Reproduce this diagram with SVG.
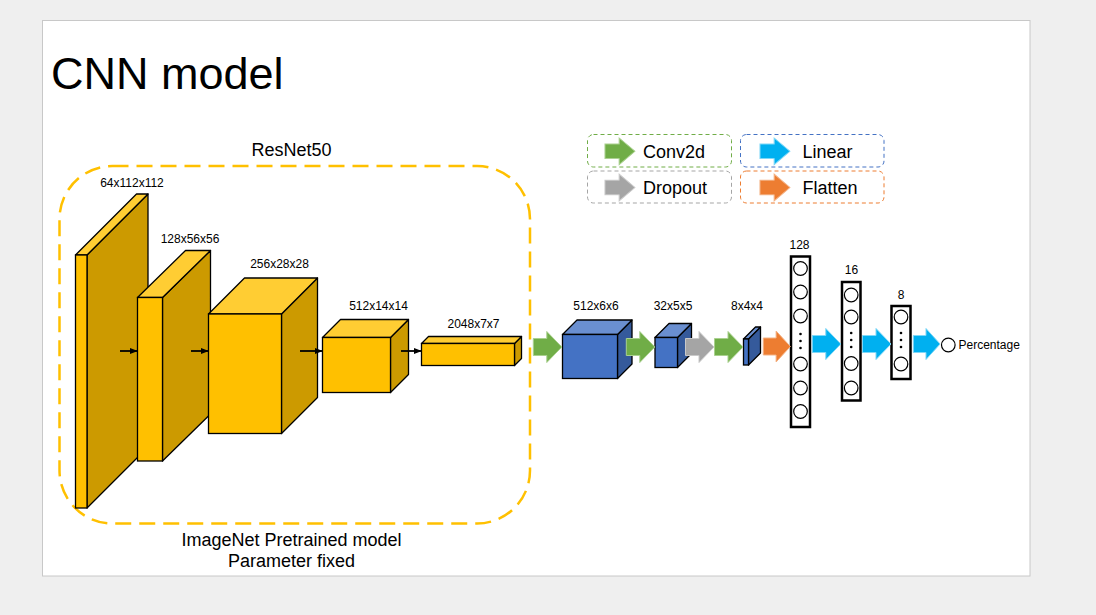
<svg xmlns="http://www.w3.org/2000/svg" width="1096" height="615" viewBox="0 0 1096 615">
<style>
text{font-family:"Liberation Sans",Arial,sans-serif;fill:#000}
.lbl{font-size:12px;text-anchor:middle}
.big{font-size:18px}
.yf{fill:#ffc000;stroke:#000;stroke-width:1.3}
.yt{fill:#ffcd33;stroke:#000;stroke-width:1.3;stroke-linejoin:round}
.ys{fill:#cc9a00;stroke:#000;stroke-width:1.3;stroke-linejoin:round}
.bf{fill:#4472c4;stroke:#000;stroke-width:1.3}
.bt{fill:#6a8fd0;stroke:#000;stroke-width:1.3;stroke-linejoin:round}
.bs{fill:#355a9b;stroke:#000;stroke-width:1.3;stroke-linejoin:round}
.col{fill:#fff;stroke:#000;stroke-width:2.5}
.neu{fill:#fff;stroke:#000;stroke-width:1.2}
.g{fill:#70ad47;stroke:#a9d08e;stroke-width:1}
.gr{fill:#a5a5a5;stroke:#c9c9c9;stroke-width:1}
.o{fill:#ed7d31;stroke:#f4b183;stroke-width:1}
.bl{fill:#00b0f0;stroke:#7fd7f7;stroke-width:1}
.leg{fill:#fff;stroke-width:1;stroke-dasharray:4 3}
.small{stroke:#000;stroke-width:1.8;marker-end:url(#ah)}
</style>
<defs>
<path id="arr" d="M0,-8.5 H13.5 V-15.5 L28.5,0 L13.5,15.5 V8.5 H0 Z"/>
<marker id="ah" viewBox="0 0 10 10" refX="9" refY="5" markerWidth="8" markerHeight="8" orient="auto" markerUnits="userSpaceOnUse">
<path d="M0,1 L10,5 L0,9 Z" fill="#000"/>
</marker>
</defs>
<rect x="0" y="0" width="1096" height="615" fill="#efefef"/>
<rect x="42.5" y="20.5" width="987.5" height="555.5" fill="#fff" stroke="#c8c8c8" stroke-width="1"/>
<text x="51" y="89" font-size="45">CNN model</text>

<g id="resnet-group">
<rect x="59.5" y="166" width="470.5" height="357.5" rx="53" ry="53" fill="none" stroke="#ffc000" stroke-width="2.5" stroke-dasharray="16 8"/>
<text class="big" x="291.5" y="156" text-anchor="middle">ResNet50</text>
<text class="big" x="291.5" y="546" text-anchor="middle">ImageNet Pretrained model</text>
<text class="big" x="291.5" y="567" text-anchor="middle">Parameter fixed</text>
</g>

<g id="block1">
<polygon class="ys" points="87,255 148,194 148,447 87,508"/>
<polygon class="yt" points="75.5,255 87,255 148,194 136.5,194"/>
<rect class="yf" x="75.5" y="255" width="11.5" height="253"/>
<text class="lbl" x="132" y="187">64x112x112</text>
</g>
<g id="block2">
<polygon class="ys" points="162.5,297.5 210.5,250.5 210.5,414 162.5,461"/>
<polygon class="yt" points="137.5,297.5 162.5,297.5 210.5,250.5 185.5,250.5"/>
<rect class="yf" x="137.5" y="297.5" width="25" height="163.5"/>
<text class="lbl" x="190" y="243">128x56x56</text>
</g>
<g id="block3">
<polygon class="ys" points="281.5,314 317.5,278 317.5,397.5 281.5,433.5"/>
<polygon class="yt" points="208.5,314 281.5,314 317.5,278 244.5,278"/>
<rect class="yf" x="208.5" y="314" width="73" height="119.5"/>
<text class="lbl" x="279.5" y="268">256x28x28</text>
</g>
<g id="block4">
<polygon class="ys" points="390.5,337.5 408.5,319.5 408.5,374.5 390.5,392.5"/>
<polygon class="yt" points="322.5,337.5 390.5,337.5 408.5,319.5 340.5,319.5"/>
<rect class="yf" x="322.5" y="337.5" width="68" height="55"/>
<text class="lbl" x="378.5" y="310">512x14x14</text>
</g>
<g id="block5">
<polygon class="ys" points="514.5,343.5 521.5,336.5 521.5,358.5 514.5,365.5"/>
<polygon class="yt" points="421.5,343.5 514.5,343.5 521.5,336.5 428.5,336.5"/>
<rect class="yf" x="421.5" y="343.5" width="93" height="22"/>
<text class="lbl" x="473.5" y="328">2048x7x7</text>
</g>

<g id="blue1">
<polygon class="bs" points="617.5,334.5 632,320 632,364 617.5,378.5"/>
<polygon class="bt" points="562.5,334.5 617.5,334.5 632,320 577,320"/>
<rect class="bf" x="562.5" y="334.5" width="55" height="44"/>
<text class="lbl" x="596" y="310">512x6x6</text>
</g>
<g id="blue2">
<polygon class="bs" points="677.5,337.5 691.5,323.5 691.5,353.5 677.5,367.5"/>
<polygon class="bt" points="655,337.5 677.5,337.5 691.5,323.5 669,323.5"/>
<rect class="bf" x="655" y="337.5" width="22.5" height="30"/>
<text class="lbl" x="673" y="310">32x5x5</text>
</g>
<g id="blue3">
<polygon class="bs" points="748.5,339 760.5,327 760.5,353 748.5,365"/>
<polygon class="bt" points="743.5,339 748.5,339 760.5,327 755.5,327"/>
<rect class="bf" x="743.5" y="339" width="5" height="26"/>
<text class="lbl" x="747" y="310">8x4x4</text>
</g>

<g id="fc128">
<rect class="col" x="791" y="256.5" width="19" height="170.5"/>
<circle class="neu" cx="800.5" cy="268.5" r="6.8"/>
<circle class="neu" cx="800.5" cy="292" r="6.8"/>
<circle class="neu" cx="800.5" cy="316" r="6.8"/>
<circle cx="800.5" cy="334" r="1.3"/>
<circle cx="800.5" cy="341" r="1.3"/>
<circle cx="800.5" cy="348" r="1.3"/>
<circle class="neu" cx="800.5" cy="364" r="6.8"/>
<circle class="neu" cx="800.5" cy="388" r="6.8"/>
<circle class="neu" cx="800.5" cy="411.5" r="6.8"/>
<text class="lbl" x="799.5" y="249">128</text>
</g>
<g id="fc16">
<rect class="col" x="842" y="282" width="18.5" height="118.5"/>
<circle class="neu" cx="851.2" cy="295" r="6.8"/>
<circle class="neu" cx="851.2" cy="317" r="6.8"/>
<circle cx="851.2" cy="333" r="1.3"/>
<circle cx="851.2" cy="340" r="1.3"/>
<circle cx="851.2" cy="347" r="1.3"/>
<circle class="neu" cx="851.2" cy="363.5" r="6.8"/>
<circle class="neu" cx="851.2" cy="388" r="6.8"/>
<text class="lbl" x="851.5" y="274">16</text>
</g>
<g id="fc8">
<rect class="col" x="891.5" y="306" width="19" height="73"/>
<circle class="neu" cx="901" cy="317" r="6.8"/>
<circle cx="901" cy="333" r="1.3"/>
<circle cx="901" cy="340" r="1.3"/>
<circle cx="901" cy="347" r="1.3"/>
<circle class="neu" cx="901" cy="364" r="6.8"/>
<text class="lbl" x="901" y="299">8</text>
</g>
<g id="output">
<circle class="neu" cx="948.3" cy="345" r="6.8"/>
<text x="958.5" y="349" font-size="12">Percentage</text>
</g>

<g id="connectors">
<line class="small" x1="120" y1="351" x2="137" y2="351"/>
<line class="small" x1="191" y1="351" x2="208" y2="351"/>
<line class="small" x1="300" y1="351" x2="322" y2="351"/>
<line class="small" x1="401" y1="351" x2="421" y2="351"/>
<use href="#arr" class="g" transform="translate(533.3,347)"/>
<use href="#arr" class="g" transform="translate(626.3,347)"/>
<use href="#arr" class="gr" transform="translate(685.5,347)"/>
<use href="#arr" class="g" transform="translate(714.5,347)"/>
<use href="#arr" class="o" transform="translate(763.3,346.5) scale(0.95,1)"/>
<use href="#arr" class="bl" transform="translate(812.3,344)"/>
<use href="#arr" class="bl" transform="translate(862.5,344)"/>
<use href="#arr" class="bl" transform="translate(913.3,344) scale(0.94,1)"/>
</g>

<g id="legend">
<rect class="leg" x="587.5" y="134.5" width="144" height="32.5" rx="6" stroke="#70ad47"/>
<use href="#arr" class="g" transform="translate(605,151.3) scale(1.05,0.86)"/>
<text class="big" x="643" y="157.5">Conv2d</text>
<rect class="leg" x="740.5" y="134.5" width="143.5" height="32.5" rx="6" stroke="#4472c4"/>
<use href="#arr" class="bl" transform="translate(760,151.3) scale(1.05,0.86)"/>
<text class="big" x="802.5" y="157.5">Linear</text>
<rect class="leg" x="587.5" y="171" width="144" height="32" rx="6" stroke="#a5a5a5"/>
<use href="#arr" class="gr" transform="translate(605,187.5) scale(1.05,0.86)"/>
<text class="big" x="643" y="194">Dropout</text>
<rect class="leg" x="740.5" y="171" width="143.5" height="32" rx="6" stroke="#ed7d31"/>
<use href="#arr" class="o" transform="translate(760,187.5) scale(1.05,0.86)"/>
<text class="big" x="802.5" y="194">Flatten</text>
</g>
</svg>
